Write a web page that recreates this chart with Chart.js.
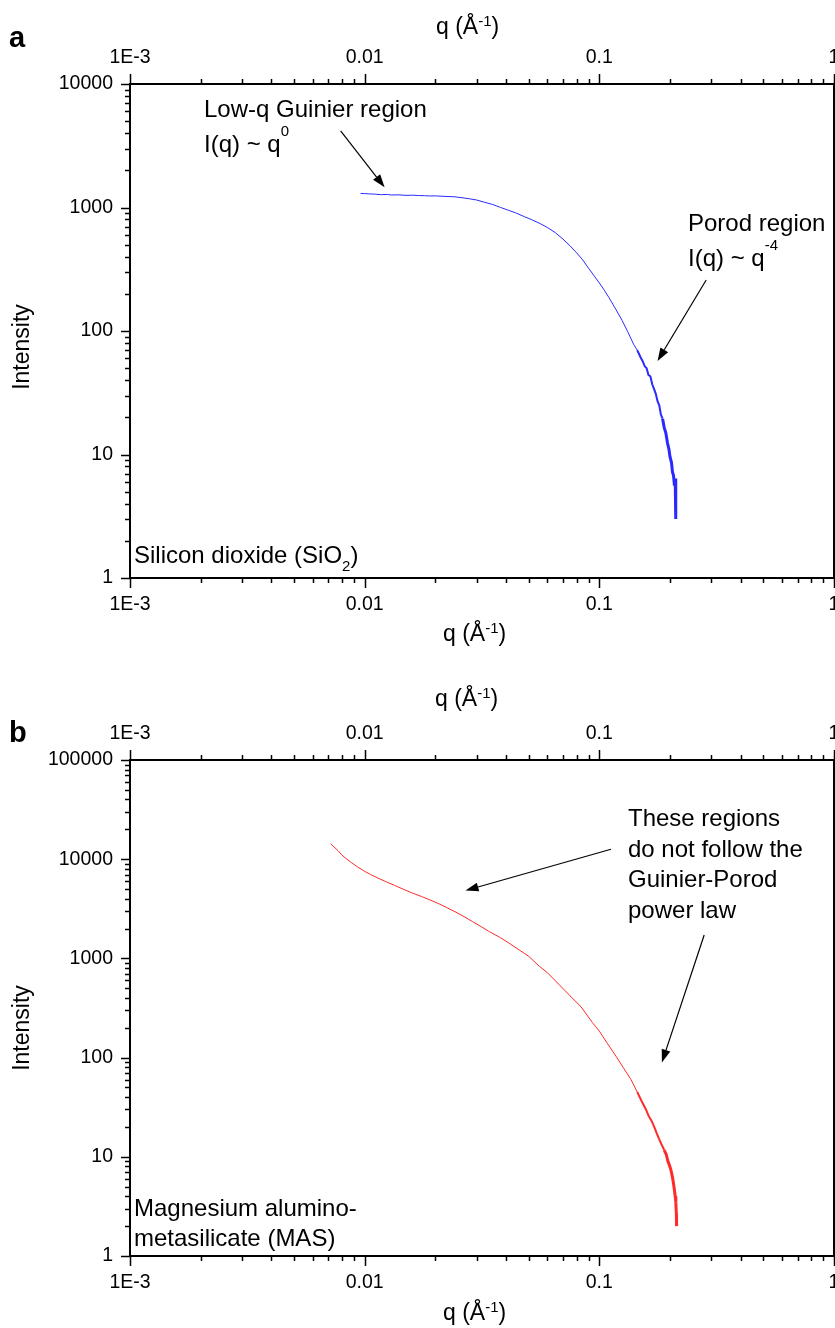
<!DOCTYPE html>
<html lang="en">
<head>
  <meta charset="UTF-8" />
  <title>SAXS curves - SiO2 and MAS</title>
  <script src="https://cdn.jsdelivr.net/npm/chart.js"></script>
  <style>
    body {
      margin: 0;
      background: #fff;
    }
    canvas {
      position: absolute;
      left: 0;
    }
    #panelA { top: 0; }
    #panelB { top: 660px; }
  </style>
</head>
<body>
  <canvas id="panelA" width="835" height="660" style="width:835px;height:660px"></canvas>
  <canvas id="panelB" width="835" height="668" style="width:835px;height:668px"></canvas>

  <script>
    // --- data ---
    const qSiO2 = [
      0.0096, 0.0100, 0.0105, 0.0110, 0.0118, 0.0125, 0.0130, 0.0140, 0.0150, 0.0160,
      0.0170, 0.0180, 0.0190, 0.0200, 0.0220, 0.0240, 0.0260, 0.0280, 0.0300, 0.0320,
      0.0350, 0.0380, 0.0410, 0.0440, 0.0480, 0.0520, 0.0560, 0.0600, 0.0650, 0.0700,
      0.0750, 0.0800, 0.0850, 0.0900, 0.0950, 0.1000, 0.1050, 0.1100, 0.1180, 0.1250,
      0.1320, 0.1400, 0.1450, 0.1500, 0.1530, 0.1560, 0.1590, 0.1620, 0.1650, 0.1680,
      0.1710, 0.1740, 0.1770, 0.1800, 0.1830, 0.1860, 0.1890, 0.1920, 0.1950, 0.1980,
      0.2000, 0.2030, 0.2050, 0.2070, 0.2090, 0.2105, 0.2115, 0.2118
    ];
    const intensitySiO2 = [
      1300, 1296, 1288, 1284, 1270, 1276, 1262, 1266, 1254, 1258,
      1250, 1246, 1240, 1242, 1230, 1222, 1200, 1176, 1150, 1110,
      1060, 1000, 950, 905, 842, 790, 740, 690, 625, 555,
      490, 430, 376, 322, 280, 245, 214, 186, 148, 122,
      99, 78, 70, 61, 57, 52, 50, 44, 43, 37,
      34, 31, 27, 25, 21, 19.5, 16.5, 15, 12.5, 11,
      9.6, 8.6, 7.2, 6.8, 5.6, 6.4, 6.2, 3.0
    ];

    const qMAS = [
      0.00716, 0.0074, 0.0077, 0.0080, 0.0084, 0.0088, 0.0093, 0.0099, 0.0106, 0.0114,
      0.0123, 0.0134, 0.0147, 0.0160, 0.0175, 0.0190, 0.0207, 0.0225, 0.0245, 0.0265,
      0.0289, 0.0315, 0.0340, 0.0375, 0.0410, 0.0457, 0.0500, 0.0556, 0.0600, 0.0676,
      0.0750, 0.0836, 0.0935, 0.1000, 0.1080, 0.1178, 0.1270, 0.1365, 0.1450, 0.1527,
      0.1580, 0.1620, 0.1670, 0.1714, 0.1760, 0.1800, 0.1850, 0.1890, 0.1930, 0.1960,
      0.1990, 0.2018, 0.2050, 0.2070, 0.2085, 0.2105, 0.2118, 0.2130, 0.2133
    ];
    const intensityMAS = [
      14300, 13300, 12200, 11000, 10000, 9200, 8400, 7650, 7000, 6450,
      5950, 5450, 4950, 4550, 4200, 3880, 3560, 3230, 2920, 2640,
      2340, 2080, 1860, 1640, 1440, 1210, 1050, 830, 720, 540,
      420, 325, 225, 185, 140, 103, 78, 60, 45, 35,
      30, 26, 23, 20, 17, 15, 13, 11.7, 10.5, 9,
      8.2, 7.4, 6.2, 5.4, 4.8, 4.0, 3.5, 2.6, 2.0
    ];

    const qTickValues = [0.001, 0.01, 0.1, 1];
    const qTickLabels = ['1E-3', '0.01', '0.1', '1'];
    const iTicksA = [1, 10, 100, 1000, 10000];
    const iTicksB = [1, 10, 100, 1000, 10000, 100000];

    const FONT = '"Liberation Sans", Arial, Helvetica, sans-serif';
    const tickFont = { family: FONT, size: 19.5 };

    function toPoints(xs, ys) {
      return xs.map((x, i) => ({ x: x, y: ys[i] }));
    }

    // text with superscript / subscript pieces: [text, kind, raise]
    function richText(ctx, x, y, parts, size) {
      let cx = x;
      parts.forEach(p => {
        const kind = p[1] || '';
        let fs = size, dy = 0;
        if (kind === 'sup') { fs = 15; dy = -(p[2] || 16); }
        if (kind === 'sub') { fs = 15; dy = 8; }
        ctx.font = fs + 'px ' + FONT;
        ctx.fillText(p[0], cx, y + dy);
        cx += ctx.measureText(p[0]).width;
      });
    }

    function arrow(ctx, x1, y1, x2, y2) {
      const ang = Math.atan2(y2 - y1, x2 - x1);
      const len = 13, half = 4.5;
      const bx = x2 - len * Math.cos(ang), by = y2 - len * Math.sin(ang);
      ctx.beginPath();
      ctx.lineWidth = 1.2;
      ctx.moveTo(x1, y1);
      ctx.lineTo(bx, by);
      ctx.stroke();
      ctx.beginPath();
      ctx.moveTo(x2, y2);
      ctx.lineTo(bx + half * Math.sin(ang), by - half * Math.cos(ang));
      ctx.lineTo(bx - half * Math.sin(ang), by + half * Math.cos(ang));
      ctx.closePath();
      ctx.fill();
    }

    // frame, tick marks, titles and notes
    const decorPlugin = {
      id: 'decor',
      afterDraw(chart, args, opts) {
        const { ctx, chartArea: a, scales } = chart;
        ctx.save();
        ctx.strokeStyle = '#000';
        ctx.fillStyle = '#000';

        ctx.lineWidth = 1.5;
        const xs = scales.x, ys = scales.y;
        for (let e = -3; e <= 0; e++) {
          for (let m = 1; m <= 9; m++) {
            const v = m * Math.pow(10, e);
            if (v > 1.0001) break;
            const px = Math.round(xs.getPixelForValue(v)) + 0.5;
            const len = m === 1 ? 10 : 5;
            ctx.beginPath();
            ctx.moveTo(px, a.bottom); ctx.lineTo(px, a.bottom + len);
            ctx.moveTo(px, a.top); ctx.lineTo(px, a.top - len);
            ctx.stroke();
          }
        }
        for (let e = 0; e <= opts.maxExp; e++) {
          for (let m = 1; m <= 9; m++) {
            const v = m * Math.pow(10, e);
            if (v > Math.pow(10, opts.maxExp) + 1) break;
            const py = Math.round(ys.getPixelForValue(v)) + 0.5;
            const len = m === 1 ? 9 : 5;
            ctx.beginPath();
            ctx.moveTo(a.left, py); ctx.lineTo(a.left - len, py);
            ctx.moveTo(a.right, py); ctx.lineTo(a.right + len, py);
            ctx.stroke();
          }
        }

        ctx.lineWidth = 2;
        ctx.strokeRect(a.left, a.top, a.right - a.left, a.bottom - a.top);

        // panel letter
        ctx.font = 'bold 29px ' + FONT;
        ctx.textBaseline = 'alphabetic';
        ctx.textAlign = 'left';
        ctx.fillText(opts.letter, 9, opts.letterY);

        // axis titles
        const qTitle = [['q ('], ['Å'], ['-1', 'sup', 8], [')']];
        richText(ctx, opts.topTitle[0], opts.topTitle[1], qTitle, 23);
        richText(ctx, opts.bottomTitle[0], opts.bottomTitle[1], qTitle, 23);

        ctx.save();
        ctx.translate(29, opts.yTitleY);
        ctx.rotate(-Math.PI / 2);
        ctx.textAlign = 'center';
        ctx.font = '23px ' + FONT;
        ctx.fillText('Intensity', 0, 0);
        ctx.restore();

        // notes
        ctx.textAlign = 'left';
        opts.notes.forEach(n => richText(ctx, n.x, n.y, n.parts, 24));
        opts.arrows.forEach(r => {
          arrow(ctx,
            xs.getPixelForValue(r[0]), ys.getPixelForValue(r[1]),
            xs.getPixelForValue(r[2]), ys.getPixelForValue(r[3]));
        });
        ctx.restore();
      }
    };

    function makeChart(id, opt) {
      const qAxis = (pos, h) => ({
        type: 'logarithmic',
        position: pos,
        min: 0.001,
        max: 1,
        grid: { display: false, drawTicks: false },
        border: { display: false },
        afterBuildTicks: s => { s.ticks = qTickValues.map(v => ({ value: v })); },
        ticks: {
          autoSkip: false,
          maxRotation: 0,
          padding: 15,
          color: '#000',
          font: tickFont,
          callback: v => qTickLabels[qTickValues.indexOf(v)]
        },
        afterFit: s => { s.height = h; s.paddingLeft = 0; s.paddingRight = 0; }
      });

      return new Chart(document.getElementById(id), {
        type: 'scatter',
        data: {
          datasets: [{
            data: toPoints(opt.q, opt.intensity),
            showLine: true,
            borderColor: opt.color,
            borderWidth: 1,
            pointRadius: 0,
            segment: {
              borderWidth: c => c.p0.parsed.x > 0.185 ? 3 : (c.p0.parsed.x > 0.14 ? 2 : 1)
            }
          }]
        },
        options: {
          responsive: false,
          animation: false,
          layout: { padding: { left: 0, right: 1, top: 0, bottom: 0 } },
          plugins: {
            legend: { display: false },
            tooltip: { enabled: false },
            decor: opt.decor
          },
          scales: {
            x: qAxis('bottom', opt.bottomH),
            x2: qAxis('top', opt.topH),
            y: {
              type: 'logarithmic',
              position: 'left',
              min: 1,
              max: opt.iTicks[opt.iTicks.length - 1],
              grid: { display: false, drawTicks: false },
              border: { display: false },
              afterBuildTicks: s => { s.ticks = opt.iTicks.map(v => ({ value: v })); },
              ticks: {
                autoSkip: false,
                padding: 17,
                color: '#000',
                font: tickFont,
                callback: v => String(v)
              },
              afterFit: s => { s.width = 130; s.paddingTop = 0; s.paddingBottom = 0; }
            }
          }
        },
        plugins: [decorPlugin]
      });
    }

    makeChart('panelA', {
      q: qSiO2,
      intensity: intensitySiO2,
      color: '#2a2aff',
      iTicks: iTicksA,
      topH: 84,
      bottomH: 82,
      decor: {
        letter: 'a',
        letterY: 47,
        maxExp: 4,
        topTitle: [436, 34],
        bottomTitle: [443, 641],
        yTitleY: 347,
        notes: [
          { x: 204, y: 117, parts: [['Low-q Guinier region']] },
          { x: 204, y: 152, parts: [['I(q) ~ q'], ['0', 'sup', 16]] },
          { x: 688, y: 231, parts: [['Porod region']] },
          { x: 688, y: 266, parts: [['I(q) ~ q'], ['-4', 'sup', 16]] },
          { x: 134, y: 563, parts: [['Silicon dioxide (SiO'], ['2', 'sub'], [')']] }
        ],
        arrows: [
          [0.00790, 4164, 0.01216, 1457],
          [0.2853, 258.8, 0.1771, 57.2]
        ]
      }
    });

    makeChart('panelB', {
      q: qMAS,
      intensity: intensityMAS,
      color: '#ff2a2a',
      iTicks: iTicksB,
      topH: 100,
      bottomH: 72,
      decor: {
        letter: 'b',
        letterY: 82,
        maxExp: 5,
        topTitle: [435, 46],
        bottomTitle: [443, 660],
        yTitleY: 368,
        notes: [
          { x: 628, y: 166, parts: [['These regions']] },
          { x: 628, y: 196.5, parts: [['do not follow the']] },
          { x: 628, y: 227, parts: [['Guinier-Porod']] },
          { x: 628, y: 257.5, parts: [['power law']] },
          { x: 134, y: 556, parts: [['Magnesium alumino-']] },
          { x: 134, y: 586, parts: [['metasilicate (MAS)']] }
        ],
        arrows: [
          [0.1121, 12585, 0.02690, 4836],
          [0.2798, 1721, 0.1848, 89.2]
        ]
      }
    });
  </script>
</body>
</html>
